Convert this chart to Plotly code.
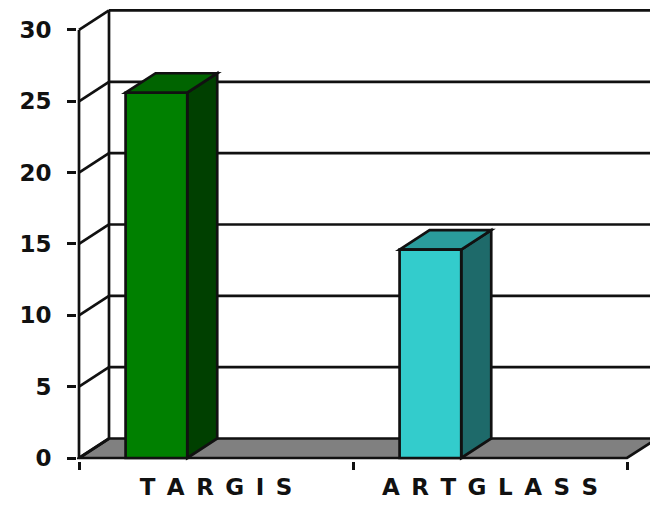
import plotly.graph_objects as go

# ---- data ----
categories = ["TARGIS", "ARTGLASS"]
values = [25.6, 14.6]
front_colors = ["#008000", "#33CCCC"]
top_colors = ["#006400", "#2A9C9C"]
side_colors = ["#004000", "#1E6A6A"]
y_ticks = [0, 5, 10, 15, 20, 25, 30]

# ---- layout geometry ----
W, H = 650, 509
ML, MR, MT, MB = 77, 0, 0, 48
px_per_x = 274.0
px_per_y = 14.268
XMIN = -0.5 - 2 / px_per_x
XMAX = XMIN + (W - ML - MR) / px_per_x
YMIN = -3 / px_per_y
YMAX = YMIN + (H - MT - MB) / px_per_y
DX = 30 / px_per_x        # depth offset along x (data units)
DY = 19.5 / px_per_y      # depth offset along y (data units)
BAR_OFF = -0.33
BAR_W = 0.225
LW = 2.7
INK = "#111111"
FONT = "DejaVu Sans, Arial"

labels = ["\u2002".join(c) for c in categories]

fig = go.Figure()

shapes = []
def path(pts):
    return "M " + " L ".join(f"{x},{y}" for x, y in pts) + " Z"

# floor
x0, x1 = -0.5, len(categories) - 0.5
shapes.append(dict(type="path", layer="below",
                   path=path([(x0, 0), (x1, 0), (x1 + DX, DY), (x1 + DX + 1, DY), (x0 + DX, DY)]),
                   fillcolor="#808080", line=dict(color=INK, width=LW)))
# back wall gridlines and side-wall diagonals
for v in y_ticks:
    if v > 0:
        shapes.append(dict(type="line", layer="below", x0=x0 + DX, y0=v + DY, x1=XMAX + 1, y1=v + DY,
                           line=dict(color=INK, width=LW)))
    shapes.append(dict(type="line", layer="below", x0=x0, y0=v, x1=x0 + DX, y1=v + DY,
                       line=dict(color=INK, width=LW)))
# back wall left vertical edge
shapes.append(dict(type="line", layer="below", x0=x0 + DX, y0=DY, x1=x0 + DX, y1=max(y_ticks) + DY,
                   line=dict(color=INK, width=LW)))
# front vertical axis line
shapes.append(dict(type="line", layer="below", x0=x0, y0=0, x1=x0, y1=max(y_ticks),
                   line=dict(color=INK, width=LW)))

# bar top and side faces
for i, v in enumerate(values):
    L = i + BAR_OFF
    R = L + BAR_W
    shapes.append(dict(type="path", layer="below",
                       path=path([(R, 0), (R + DX, DY), (R + DX, v + DY), (R, v)]),
                       fillcolor=side_colors[i], line=dict(color=INK, width=LW)))
    shapes.append(dict(type="path", layer="below",
                       path=path([(L, v), (L + DX, v + DY), (R + DX, v + DY), (R, v)]),
                       fillcolor=top_colors[i], line=dict(color=INK, width=LW)))

fig.add_trace(go.Bar(
    x=labels, y=values, width=[BAR_W] * len(values), offset=[BAR_OFF] * len(values),
    marker=dict(color=front_colors, line=dict(color=INK, width=LW)),
    hoverinfo="skip", showlegend=False,
))

fig.update_layout(
    width=W, height=H,
    margin=dict(l=ML, r=MR, t=MT, b=MB, pad=0),
    paper_bgcolor="white", plot_bgcolor="white",
    shapes=shapes,
    showlegend=False,
    xaxis=dict(type="category", range=[XMIN, XMAX], showgrid=False, zeroline=False, showline=False,
               ticks="outside", ticklen=8, tickwidth=LW, tickcolor=INK, tickson="boundaries",
               ticklabelstandoff=10,
               tickfont=dict(family=FONT, size=23, color=INK, weight="bold"),
               fixedrange=True),
    yaxis=dict(range=[YMIN, YMAX], showgrid=False, zeroline=False, showline=False,
               tickmode="array", tickvals=y_ticks, ticktext=[str(t) for t in y_ticks],
               ticks="outside", ticklen=9, tickwidth=LW, tickcolor=INK, ticklabelstandoff=11,
               tickfont=dict(family=FONT, size=23, color=INK, weight="bold"),
               fixedrange=True),
)

fig.write_html("out.html")
